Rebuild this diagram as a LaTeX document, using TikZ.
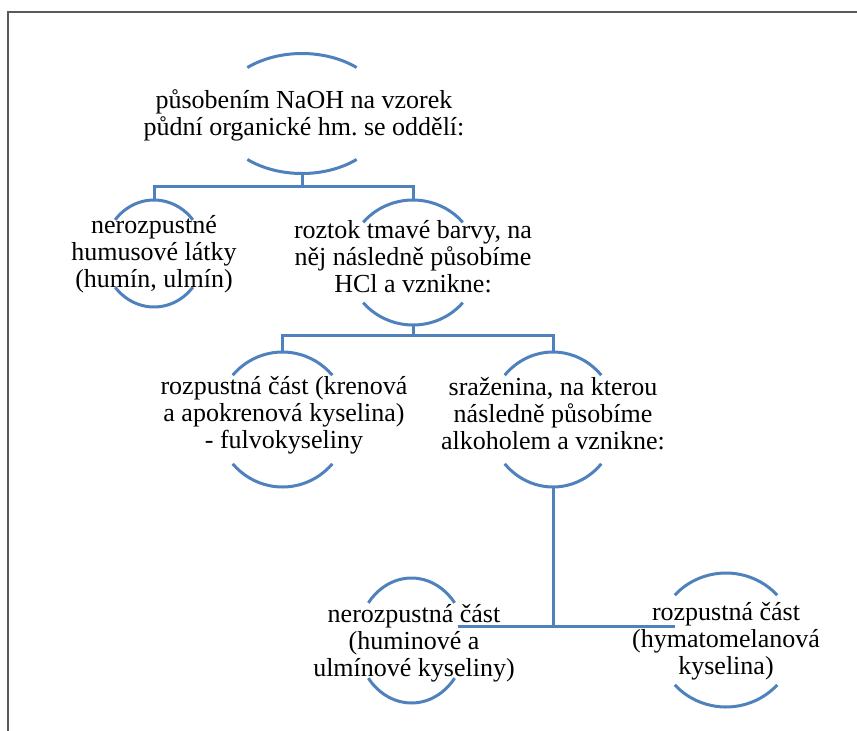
\documentclass[tikz,border=0pt]{standalone}
\usepackage{fontspec}
\setmainfont{Liberation Serif}
\newfontfamily\tnr{Liberation Serif}
\usetikzlibrary{calc}
\definecolor{smblue}{HTML}{4F81BD}
\definecolor{framegray}{HTML}{5A5A5A}
\newcommand\tA{\rule{0pt}{20pt}}
\newcommand\tZ{\rule[-6pt]{0pt}{6pt}}
% name, cx, cy, rx, ry, half-opening angle
\newcommand\ringarcs[6]{%
  \coordinate (#1-c) at (#2,#3);
  \coordinate (#1-top) at (#2,{#3-#5});
  \coordinate (#1-bot) at (#2,{#3+#5});
  \draw[arcline] ($(#1-c)+({-180+#6}:#4 and #5)$) arc[start angle={-180+#6}, end angle={-#6}, x radius=#4, y radius=#5];
  \draw[arcline] ($(#1-c)+(#6:#4 and #5)$) arc[start angle=#6, end angle={180-#6}, x radius=#4, y radius=#5];
}
\frenchspacing
\begin{document}
\begin{tikzpicture}[x=1pt, y=-1pt,
  arcline/.style={smblue, line width=3pt},
  conn/.style={smblue, line width=3pt},
  txt/.style={align=center, font=\tnr\fontsize{26}{27}\selectfont, inner sep=0pt, text=black}]
\useasboundingbox (0,0) rectangle (857,731);
% frame
\draw[framegray, line width=1.8pt] (857,12) -- (8,12) -- (8,731);
% ring arcs
\ringarcs{n1}{302}{113.5}{85}{60}{50}
\ringarcs{n2}{154}{253.5}{50}{53.5}{39}
\ringarcs{n3}{413}{262.5}{65}{62.5}{40}
\ringarcs{n4}{282.5}{419.5}{66}{67.5}{41}
\ringarcs{n5}{553}{419.5}{64}{67.5}{41}
\ringarcs{n6}{411.5}{640.5}{54}{62.5}{37}
\ringarcs{n7}{726}{640}{69}{67}{42}
% connectors
\coordinate (j1) at (302,186);
\coordinate (j2) at (413,335);
\coordinate (j3) at (553,626);
\coordinate (n6-port) at (458,626);
\coordinate (n7-port) at (675,626);
\draw[conn] (n1-bot) -- (j1);
\draw[conn] (n2-top) |- (j1) -| (n3-top);
\draw[conn] (n3-bot) -- (j2);
\draw[conn] (n4-top) |- (j2) -| (n5-top);
\draw[conn] (n5-bot) -- (j3);
\draw[conn] (n6-port) -- (n7-port);
% texts
\node[txt] (n1) at (304,114.5) {\tA působením NaOH na vzorek\\půdní organické hm. se oddělí:\tZ};
\node[txt] (n2) at (154,253) {\tA nerozpustné\\humusové látky\\(humín, ulmín)\tZ};
\node[txt] (n3) at (413,258) {\tA roztok tmavé barvy, na\\něj následně působíme\\HCl a vznikne:\tZ};
\node[txt] (n4) at (284,414) {\tA rozpustná část (krenová\\a apokrenová kyselina)\\- fulvokyseliny\tZ};
\node[txt] (n5) at (553,415) {\tA sraženina, na kterou\\následně působíme\\alkoholem a vznikne:\tZ};
\node[txt] (n6) at (414,642) {\tA nerozpustná část\\(huminové a\\ulmínové kyseliny)\tZ};
\node[txt] (n7) at (726,640) {\tA rozpustná část\\(hymatomelanová\\kyselina)\tZ};
\end{tikzpicture}
\end{document}
